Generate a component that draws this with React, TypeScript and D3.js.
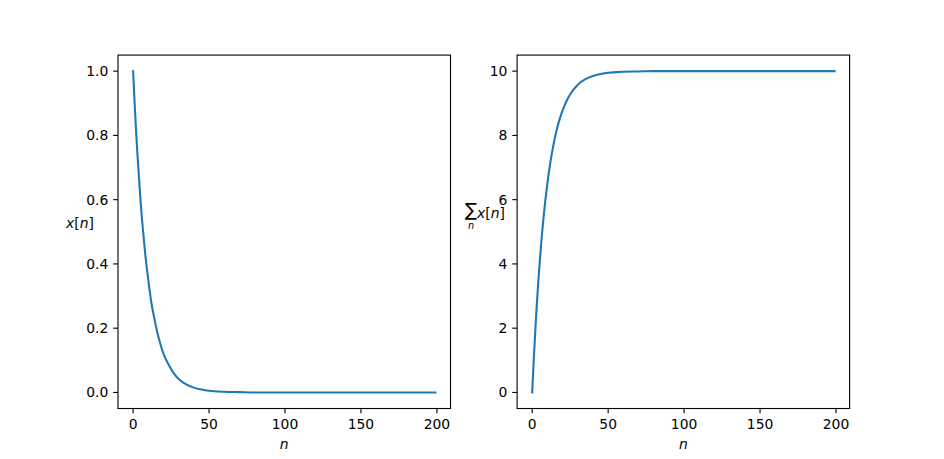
import React from "react";
import * as d3 from "d3";

// Sample indices and values
const nValues = [0, 1, 2, 3, 4, 5, 6, 7, 8, 10, 12, 14, 16, 18, 20, 23, 26, 30, 35, 40, 45, 50, 60, 70, 80, 100, 130, 160, 199];
const xValues = [1.0, 0.9, 0.81, 0.73, 0.66, 0.59, 0.53, 0.48, 0.43, 0.35, 0.28, 0.23, 0.185, 0.15, 0.12, 0.09, 0.065, 0.042, 0.025, 0.015, 0.009, 0.005, 0.002, 0.001, 0.0, 0.0, 0.0, 0.0, 0.0];
const sumValues = [0, 1.0, 1.9, 2.71, 3.44, 4.1, 4.69, 5.22, 5.7, 6.51, 7.18, 7.71, 8.15, 8.5, 8.78, 9.11, 9.35, 9.58, 9.75, 9.85, 9.91, 9.95, 9.98, 9.99, 10, 10, 10, 10, 10];

const xTicks = [0, 50, 100, 150, 200];
const leftYTicks = [0, 0.2, 0.4, 0.6, 0.8, 1.0];
const rightYTicks = [0, 2, 4, 6, 8, 10];

const W = 944;
const H = 459;
const FONT = "DejaVu Sans";
const FS = 13.9;
const TICK = 4.86;
const PAD = 4.86;
const COLOR = "#1f77b4";

type PanelProps = {
  left: number;
  ys: number[];
  yDomain: [number, number];
  yTicks: number[];
  fmt: (v: number) => string;
};

function Panel({ left, ys, yDomain, yTicks, fmt }: PanelProps) {
  const top = 55.08;
  const bottom = 408.51;
  const width = 332.5;
  const x = d3.scaleLinear().domain([-9.95, 208.95]).range([left, left + width]);
  const y = d3.scaleLinear().domain(yDomain).range([bottom, top]);
  const pts: [number, number][] = nValues.map((n, i) => [n, ys[i]]);
  const line = d3
    .line<[number, number]>()
    .x((d) => x(d[0]))
    .y((d) => y(d[1]))
    .curve(d3.curveMonotoneX);
  return (
    <g>
      <path d={line(pts) || ""} fill="none" stroke={COLOR} strokeWidth={2.08} strokeLinecap="square" />
      <rect x={left} y={top} width={width} height={bottom - top} fill="none" stroke="black" strokeWidth={1.1} />
      {xTicks.map((t) => (
        <g key={"x" + t}>
          <line x1={x(t)} x2={x(t)} y1={bottom} y2={bottom + TICK} stroke="black" strokeWidth={1.1} />
          <text x={x(t)} y={bottom + TICK + PAD + FS * 0.76} textAnchor="middle" fontFamily={FONT} fontSize={FS}>
            {t}
          </text>
        </g>
      ))}
      {yTicks.map((t) => (
        <g key={"y" + t}>
          <line x1={left} x2={left - TICK} y1={y(t)} y2={y(t)} stroke="black" strokeWidth={1.1} />
          <text x={left - TICK - PAD} y={y(t)} dy="0.36em" textAnchor="end" fontFamily={FONT} fontSize={FS}>
            {fmt(t)}
          </text>
        </g>
      ))}
      <text x={left + width / 2} y={449} textAnchor="middle" fontFamily={FONT} fontSize={FS} fontStyle="italic">
        n
      </text>
    </g>
  );
}

export default function App() {
  return (
    <svg width={W} height={H} style={{ display: "block", position: "absolute", left: 0, top: 0 }}>
      <rect width={W} height={H} fill="white" />
      <Panel left={118} ys={xValues} yDomain={[-0.05, 1.05]} yTicks={leftYTicks} fmt={(v) => v.toFixed(1)} />
      <Panel left={517.1} ys={sumValues} yDomain={[-0.5, 10.5]} yTicks={rightYTicks} fmt={(v) => String(v)} />
      <text x={80} y={228} textAnchor="middle" fontFamily={FONT} fontSize={FS}>
        <tspan fontStyle="italic">x</tspan>
        <tspan>[</tspan>
        <tspan fontStyle="italic">n</tspan>
        <tspan>]</tspan>
      </text>
      <text x={471} y={215.5} textAnchor="middle" fontFamily={FONT} fontSize={18}>
        ∑
      </text>
      <text x={471} y={229} textAnchor="middle" fontFamily={FONT} fontSize={9.7} fontStyle="italic">
        n
      </text>
      <text x={477} y={218} textAnchor="start" fontFamily={FONT} fontSize={FS}>
        <tspan fontStyle="italic">x</tspan>
        <tspan>[</tspan>
        <tspan fontStyle="italic">n</tspan>
        <tspan>]</tspan>
      </text>
    </svg>
  );
}
